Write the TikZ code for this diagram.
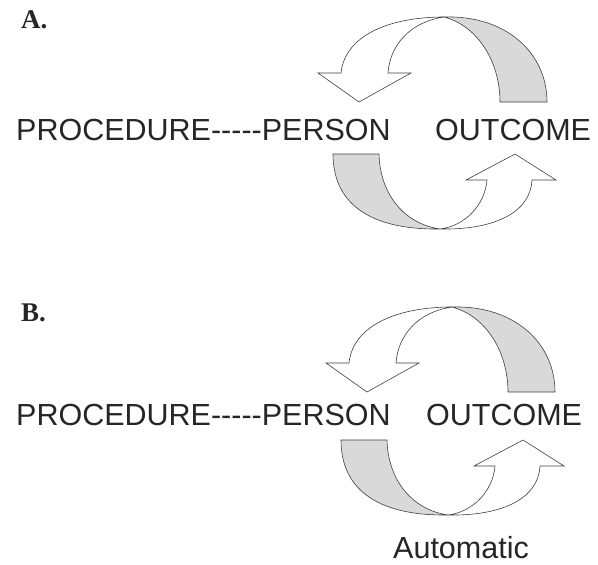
\documentclass[tikz,border=0pt]{standalone}
\usepackage{fontspec}
\setmainfont{Liberation Serif}
\setsansfont{Liberation Sans}
\usepackage{xcolor}
\usepackage{tikz}
\usetikzlibrary{positioning}
\tikzstyle{word} = [inner sep=0pt, anchor=base west, font=\sffamily\fontsize{30.5}{36}\selectfont, text=black!85]
\tikzstyle{panel} = [inner sep=0pt, anchor=base west, font=\rmfamily\bfseries\fontsize{27}{30}\selectfont, text=black!85]
\tikzstyle{front} = [draw=black!75, line width=0.6pt, fill=white, line join=miter]
\tikzstyle{back} = [draw=black!75, line width=0.6pt, fill=black!15]

% upper curved arrow (back side grey, head pointing down-left)
\newcommand{\upperarrow}{%
  \draw[back] (444,17) .. controls (505,15) and (547,52) .. (547,102) -- (500,102)
    .. controls (500,62) and (478,26) .. (444,17) -- cycle;
  \draw[front] (341,73) .. controls (345,35) and (390,17) .. (444,17)
    .. controls (410,22) and (390,45) .. (388,73) -- (411,73) -- (359,102) -- (318,73) -- cycle;
}
% lower curved arrow (back side grey, head pointing up-right)
\newcommand{\lowerarrow}{%
  \draw[back] (333,154) -- (379,154) .. controls (380,195) and (405,224) .. (440,229)
    .. controls (365,230) and (333,200) .. (333,154) -- cycle;
  \draw[front] (440,229) .. controls (490,230) and (530,215) .. (532,180) -- (556,180)
    -- (515,154) -- (466,180) -- (487,180) .. controls (485,205) and (465,226) .. (440,229) -- cycle;
}

\begin{document}
\begin{tikzpicture}[x=1pt, y=-1pt]
\useasboundingbox (0,0) rectangle (598,565);

% Panel A
\node (labA) [panel] at (21,28) {A.};
\node (procA) [word] at (16,140) {PROCEDURE-{}-{}-{}-{}-PERSON};
\node (outA) [word] at (435,140) {OUTCOME};
\upperarrow
\lowerarrow

% Panel B
\node (labB) [panel] at (21,321) {B.};
\node (procB) [word] at (16,425) {PROCEDURE-{}-{}-{}-{}-PERSON};
\node (outB) [word] at (426,425) {OUTCOME};
\begin{scope}[shift={(8,290)}]
\upperarrow
\end{scope}
\begin{scope}[shift={(8,286)}]
\lowerarrow
\end{scope}
\node (autoB) [word] at (393,558) {Automatic};

\end{tikzpicture}
\end{document}
